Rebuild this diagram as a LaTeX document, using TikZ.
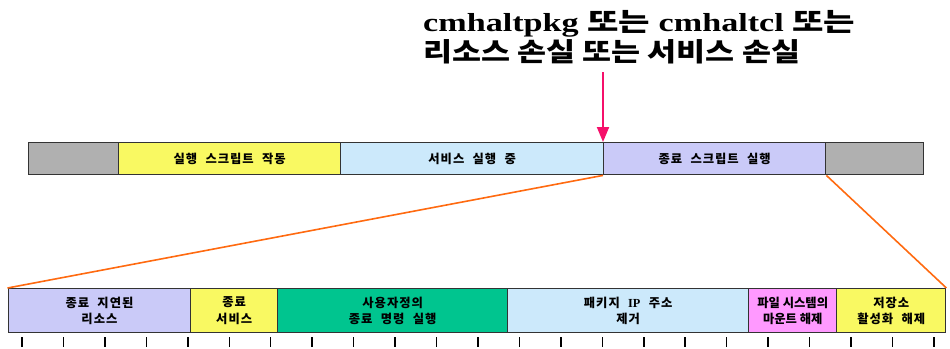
\documentclass[tikz,border=0pt]{standalone}
\usepackage{fontspec}
\usepackage{graphicx}
\usetikzlibrary{arrows.meta}
\setmainfont{Liberation Serif}
\newfontfamily\kr{Noto Sans CJK KR}
\newfontfamily\krs[LetterSpace=8,WordSpace=2.2]{Noto Sans CJK KR}
\definecolor{grayseg}{HTML}{B0B0B0}
\definecolor{yelseg}{HTML}{F9F962}
\definecolor{blueseg}{HTML}{CCE9FB}
\definecolor{lavseg}{HTML}{CACAF8}
\definecolor{greenseg}{HTML}{00C58F}
\definecolor{pinkseg}{HTML}{FF99FF}
\definecolor{edge}{HTML}{333333}
\definecolor{orangeline}{HTML}{FF6A10}
\definecolor{arrowpink}{HTML}{F5106A}
\tikzset{
  seg/.style={draw=edge, line width=1.4pt, rectangle, anchor=north west, inner sep=0pt, align=center,
    font=\krs\bfseries\fontsize{12.3}{16.5}\selectfont},
  topseg/.style={seg, minimum height=32pt},
  botseg/.style={seg, minimum height=44pt},
  zoomline/.style={orangeline, line width=1.6pt},
  tickmark/.style={black, line width=1.5pt},
}
\begin{document}
\begin{tikzpicture}[x=1pt,y=-1pt]
\useasboundingbox (0,0) rectangle (950,348);
% title
\node[anchor=north west, align=left, inner sep=0pt, font=\bfseries\fontsize{26}{30}\selectfont] (title) at (423,10)
  {\resizebox{432pt}{\height}{cmhaltpkg {\kr\bfseries 또는} cmhaltcl {\kr\bfseries 또는}}\\
   \resizebox{377pt}{\height}{\kr\bfseries 리소스 손실 또는 서비스 손실}};
% top bar
\node[topseg, fill=grayseg, minimum width=90pt] (t1) at (28,142) {};
\node[topseg, fill=yelseg, minimum width=222pt] (t2) at (118,142) {실행 스크립트 작동};
\node[topseg, fill=blueseg, minimum width=263pt] (t3) at (340,142) {서비스 실행 중};
\node[topseg, fill=lavseg, minimum width=222pt] (t4) at (603,142) {종료 스크립트 실행};
\node[topseg, fill=grayseg, minimum width=98pt] (t5) at (825,142) {};
% bottom bar
\node[botseg, fill=lavseg, minimum width=182.5pt] (b1) at (7.5,288) {종료 지연된\\리소스};
\node[botseg, fill=yelseg, minimum width=87pt] (b2) at (190,288) {종료\\서비스};
\node[botseg, fill=greenseg, minimum width=230pt] (b3) at (277,288) {사용자정의\\종료 명령 실행};
\node[botseg, fill=blueseg, minimum width=241pt] (b4) at (507,288) {패키지 {\rmfamily\bfseries IP} 주소\\제거};
\node[botseg, fill=pinkseg, minimum width=88pt] (b5) at (748,288) {\kr\bfseries\fontsize{12.3}{16.5}\selectfont 파일 시스템의\\\kr\bfseries\fontsize{12.3}{16.5}\selectfont 마운트 해제};
\node[botseg, fill=yelseg, minimum width=109pt] (b6) at (836,288) {저장소\\활성화 해제};
% zoom lines
\draw[zoomline] (t4.south west) -- (b1.north west);
\draw[zoomline] (t4.south east) -- (b6.north east);
% arrow
\coordinate (arrstart) at (603,72);
\draw[arrowpink, line width=2pt, -{Triangle[width=12pt,length=15pt]}] (arrstart) -- (t4.north west);
% ticks
\foreach \i in {0,...,22} {
  \draw[tickmark] ({22+41.45*\i},337) -- ({22+41.45*\i},347);
}
\end{tikzpicture}
\end{document}
